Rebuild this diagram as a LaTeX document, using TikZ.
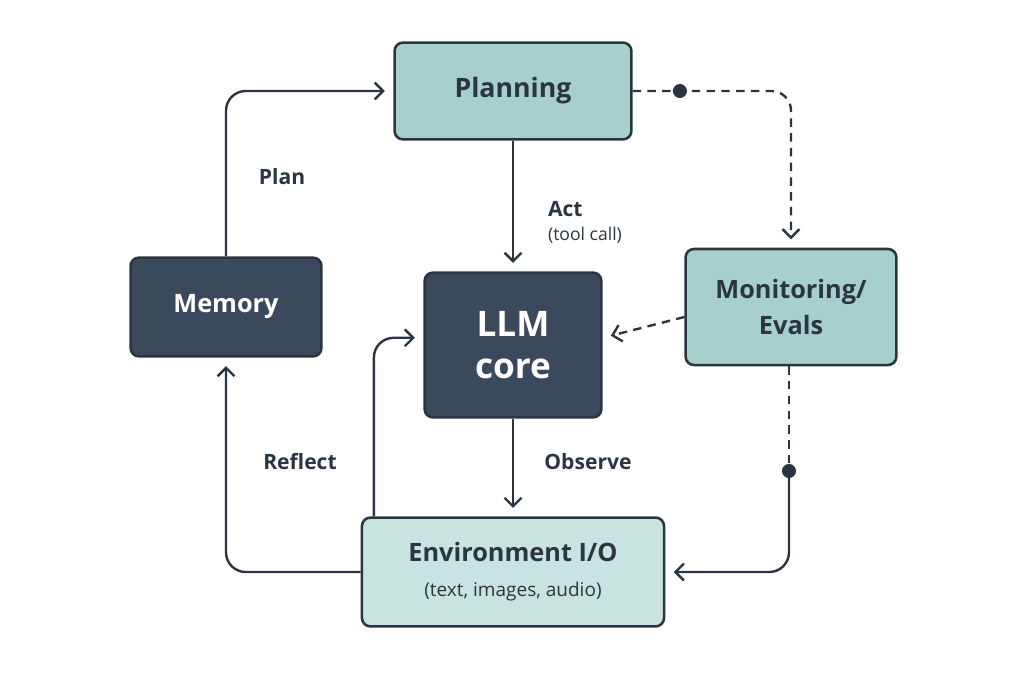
\documentclass[tikz,border=0pt]{standalone}
\usepackage{fontspec}
\setmainfont{Open Sans}
\usetikzlibrary{positioning,arrows.meta}
\definecolor{dark}{HTML}{3A4A5C}
\definecolor{edge}{HTML}{2B3541}
\definecolor{teal}{HTML}{A8D0CB}
\definecolor{pale}{HTML}{C9E4E0}
\tikzset{
  box/.style={draw=edge,line width=1.8pt,rounded corners=6pt,align=center,inner sep=0pt},
  darkbox/.style={box,fill=dark,text=white},
  tealbox/.style={box,fill=teal,text=edge},
  flow/.style={draw=edge,line width=1.7pt,rounded corners=14pt,-{Straight Barb[length=6pt,width=12pt]},shorten >=6pt},
  dashflow/.style={dash pattern=on 6pt off 4.5pt},
  lbl/.style={text=edge,font=\fontsize{15}{17}\selectfont\bfseries},
}
\begin{document}
\begin{tikzpicture}[x=0.025cm,y=-0.025cm]
  \useasboundingbox (0,0) rectangle (1024,683);
  % boxes
  \node[tealbox,minimum width=5.92cm,minimum height=2.42cm,font=\fontsize{19}{22}\selectfont\bfseries] (plan) at (513,91) {Planning};
  \node[darkbox,minimum width=4.77cm,minimum height=2.47cm,font=\fontsize{18}{22}\selectfont\bfseries] (mem) at (226,307) {Memory};
  \node[darkbox,minimum width=4.42cm,minimum height=3.62cm,font=\fontsize{25}{30}\selectfont\bfseries] (llm) at (513,345) {LLM\\core};
  \node[tealbox,minimum width=5.27cm,minimum height=2.9cm,font=\fontsize{18}{25}\selectfont\bfseries] (mon) at (791,307) {Monitoring/\\Evals};
  \node[tealbox,fill=pale,minimum width=7.55cm,minimum height=2.72cm,font=\fontsize{18}{25}\selectfont\bfseries] (env) at (513,572) {Environment I/O\\{\fontsize{13.5}{16}\selectfont\mdseries (text, images, audio)}};
  % solid connectors
  \draw[flow] (mem.north) |- (plan.west);
  \draw[flow] (plan.south) -- (llm.north);
  \draw[flow] (llm.south) -- (env.north);
  \draw[flow] (env.west) -| (mem.south);
  \draw[flow] ([xshift=0.33cm]env.north west) |- ([yshift=0.18cm]llm.west);
  % dashed connectors
  \coordinate (d1) at ([xshift=1.18cm]plan.east);
  \coordinate (d2) at (789,471);
  \draw[flow,dashflow] (plan.east) -| (mon.north);
  \draw[flow,dashflow] ([yshift=-0.25cm]mon.west) -- ([yshift=0.18cm]llm.east);
  \draw[draw=edge,line width=1.7pt,dashflow] (mon.south -| d2) -- (d2);
  \draw[flow] (d2) |- (env.east);
  \fill[edge] (d1) circle (5pt);
  \fill[edge] (d2) circle (5pt);
  % labels
  \node[lbl] (lplan) at (282,177) {Plan};
  \node[lbl,align=left] (lact) at (585,222) {Act\\{\fontsize{12.5}{15}\selectfont\mdseries (tool call)}};
  \node[lbl] (lobs) at (588,462) {Observe};
  \node[lbl] (lref) at (300,462) {Reflect};
\end{tikzpicture}
\end{document}
